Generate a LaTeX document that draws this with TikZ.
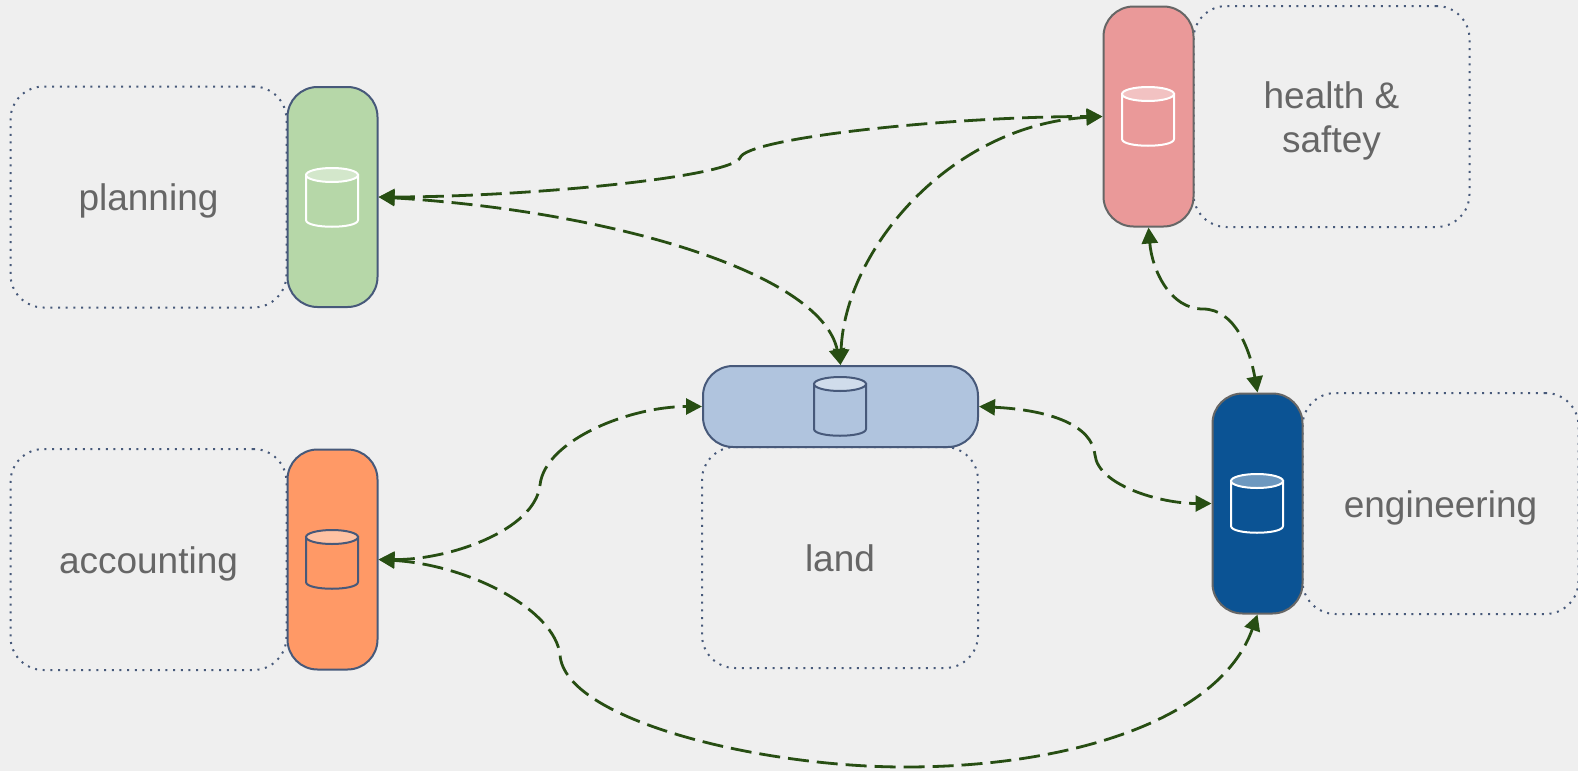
\documentclass[tikz,border=0pt]{standalone}
\usepackage{fontspec}
\setmainfont{Liberation Sans}
\usetikzlibrary{arrows.meta}
\definecolor{PageGray}{HTML}{EFEFEF}
\definecolor{TextGray}{HTML}{666666}
\definecolor{SlateLine}{HTML}{47597A}
\definecolor{LinkGreen}{HTML}{274E13}
\definecolor{PlanningFill}{HTML}{B6D7A8}
\definecolor{HealthFill}{HTML}{EA9999}
\definecolor{AccountingFill}{HTML}{FF9966}
\definecolor{LandFill}{HTML}{B0C4DE}
\definecolor{EngineeringFill}{HTML}{0B5394}

\begin{document}
\begin{tikzpicture}[
      x=1pt,y=-1pt,
      zonebox/.style={rectangle,rounded corners=33pt,draw=SlateLine,line width=2pt,
        dash pattern=on 2pt off 5.67pt,inner sep=0pt,minimum width=276pt,minimum height=221pt,
        align=center,text=TextGray,text height=35pt,text depth=8pt,
        font=\fontsize{37}{44}\selectfont},
      tabbox/.style={rectangle,rounded corners=30pt,line width=2pt,inner sep=0pt,
        minimum width=90pt,minimum height=220pt},
      pics/dbicon/.style 2 args={code={
        \draw[draw=#1,fill=#2,line width=2pt] (-26,-22.5) -- (-26,22.5)
          .. controls (-26,31.5) and (26,31.5) .. (26,22.5) -- (26,-22.5) -- cycle;
        \draw[draw=#1,fill=#2!60!white,line width=2pt] (0,-22.5) ellipse [x radius=26,y radius=7];
      }},
      link/.style={<->,draw=LinkGreen,line width=2.8pt,dash pattern=on 21pt off 8pt},
      >={Triangle[length=16pt,width=16pt]}
    ]
    \path[use as bounding box,fill=PageGray] (0,0) rectangle (1578,771);

    \node[zonebox] (planningzone) at (148.5,197) {planning};
    \node[zonebox] (accountingzone) at (148.5,559.5) {accounting};
    \node[zonebox] (landzone) at (840,557.5) {land};
    \node[zonebox,text height=79pt] (healthzone) at (1331.5,116.5) {health \&\\saftey};
    \node[zonebox] (engineeringzone) at (1440.5,503.5) {engineering};

    \node[tabbox,draw=SlateLine,fill=PlanningFill] (planningtab) at (332.5,197) {};
    \node[tabbox,draw=SlateLine,fill=AccountingFill] (accountingtab) at (332.5,559.5) {};
    \node[tabbox,draw=SlateLine,fill=LandFill,minimum width=275pt,minimum height=81pt] (landtab) at (840.5,406.5) {};
    \node[tabbox,draw=TextGray,fill=HealthFill] (healthtab) at (1148.5,116.5) {};
    \node[tabbox,draw=TextGray,fill=EngineeringFill] (engineeringtab) at (1257.5,503.5) {};

    \pic (planningdb) at (332,197.5) {dbicon={white}{PlanningFill}};
    \pic (accountingdb) at (332,559.5) {dbicon={SlateLine}{AccountingFill}};
    \pic (landdb) at (840,406.5) {dbicon={SlateLine}{LandFill}};
    \pic (healthdb) at (1148,116.5) {dbicon={white}{HealthFill}};
    \pic (engineeringdb) at (1257,503.5) {dbicon={white}{EngineeringFill}};

    \draw[link] (planningtab.east) .. controls (520,197) and (728,178) .. (740,158)
      .. controls (745,138) and (950,116.5) .. (healthtab.west);
    \draw[link] (planningtab.east) .. controls (600,210) and (820,270) .. (landtab.north);
    \draw[link] (landtab.north) .. controls (845,250) and (950,125) .. (healthtab.west);
    \draw[link] (healthtab.south) .. controls (1152,270) and (1170,309) .. (1203,309)
      .. controls (1235,309) and (1250,350) .. (engineeringtab.north);
    \draw[link] (landtab.east) .. controls (1050,410) and (1092,425) .. (1095,455)
      .. controls (1098,485) and (1160,503.5) .. (engineeringtab.west);
    \draw[link] (accountingtab.east) .. controls (450,560) and (535,530) .. (540,485)
      .. controls (545,440) and (630,406.5) .. (landtab.west);
    \draw[link] (accountingtab.east) .. controls (470,565) and (555,610) .. (560,655)
      .. controls (565,720) and (760,767) .. (905,767)
      .. controls (1070,767) and (1220,720) .. (engineeringtab.south);
  \end{tikzpicture}
\end{document}
